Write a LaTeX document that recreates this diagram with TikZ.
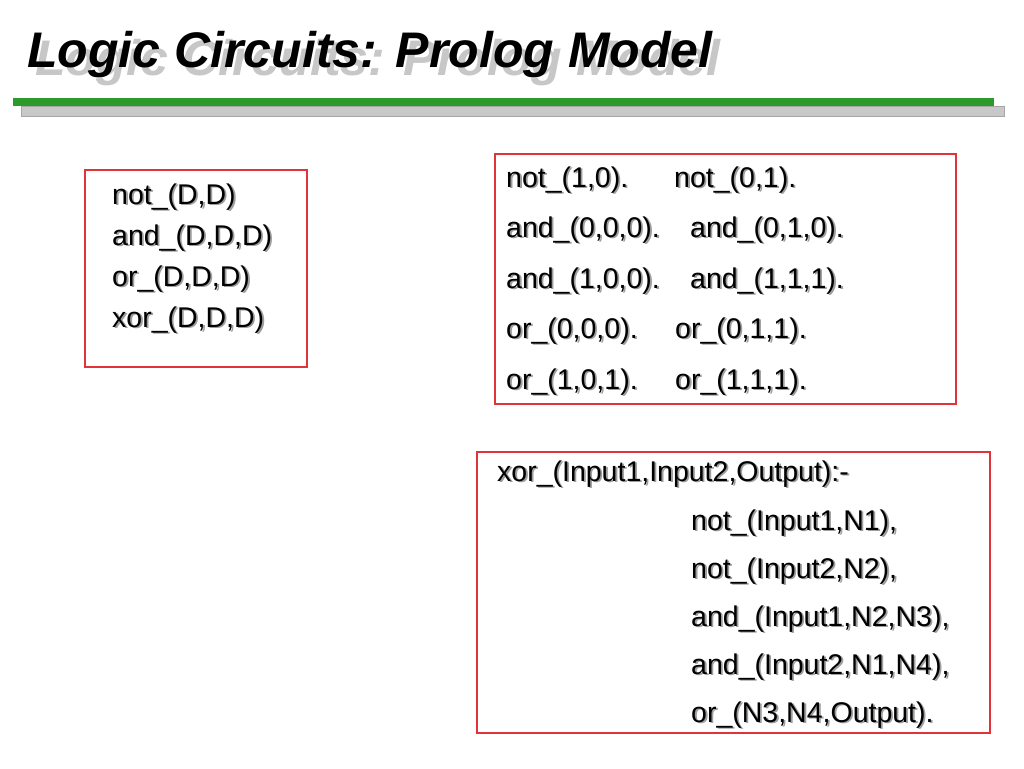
\documentclass[tikz,border=0pt]{standalone}
\usepackage{fontspec}
\setmainfont{Liberation Sans}
\definecolor{barGreen}{RGB}{42,154,42}
\definecolor{barGray}{RGB}{200,200,200}
\definecolor{boxRed}{RGB}{224,52,58}
\tikzset{
  codeline/.style={anchor=base west, inner sep=0pt, font=\fontsize{28.5}{34}\selectfont},
  shade/.style={text=black!38},
  redbox/.style={draw=boxRed, line width=1.1pt},
}
% text with a soft gray shadow
\newcommand{\shline}[4]{%
  \node[codeline, shade] at (#2+1.8,#3+1.8) {#4};
  \node[codeline] (#1) at (#2,#3) {#4};
}
\begin{document}
\begin{tikzpicture}[x=1pt, y=-1pt]
  \useasboundingbox[fill=white] (0,0) rectangle (1024,768);

  % title
  \node[anchor=base west, inner sep=0pt, text=black!22, font=\fontsize{50}{60}\selectfont\bfseries\itshape] at (35,75) {Logic Circuits: Prolog Model};
  \node (title) [anchor=base west, inner sep=0pt, font=\fontsize{50}{60}\selectfont\bfseries\itshape] at (27,67) {Logic Circuits: Prolog Model};
  \fill[barGray] (21,106) rectangle (1004,116);
  \draw[black!35, line width=0.4pt] (21,106) rectangle (1004,116);
  \fill[barGreen] (13,98) rectangle (994,106);

  % signatures
  \draw[redbox] (85,170) rectangle (307,367);
  \shline{sigNot}{112}{204}{not\_(D,D)}
  \shline{sigAnd}{112}{245}{and\_(D,D,D)}
  \shline{sigOr}{112}{286}{or\_(D,D,D)}
  \shline{sigXor}{112}{327}{xor\_(D,D,D)}

  % truth tables
  \draw[redbox] (495,154) rectangle (956,404);
  \shline{factA}{506}{187}{not\_(1,0).}
  \shline{factB}{674}{187}{not\_(0,1).}
  \shline{factC}{506}{237}{and\_(0,0,0).}
  \shline{factD}{690}{237}{and\_(0,1,0).}
  \shline{factE}{506}{288}{and\_(1,0,0).}
  \shline{factF}{690}{288}{and\_(1,1,1).}
  \shline{factG}{506}{338}{or\_(0,0,0).}
  \shline{factH}{675}{338}{or\_(0,1,1).}
  \shline{factI}{506}{389}{or\_(1,0,1).}
  \shline{factJ}{675}{389}{or\_(1,1,1).}

  % xor rule
  \draw[redbox] (477,452) rectangle (990,733);
  \shline{ruleHead}{497}{481}{xor\_(Input1,Input2,Output):-}
  \shline{ruleA}{691}{530}{not\_(Input1,N1),}
  \shline{ruleB}{691}{578}{not\_(Input2,N2),}
  \shline{ruleC}{691}{626}{and\_(Input1,N2,N3),}
  \shline{ruleD}{691}{674}{and\_(Input2,N1,N4),}
  \shline{ruleE}{691}{722}{or\_(N3,N4,Output).}
\end{tikzpicture}
\end{document}
